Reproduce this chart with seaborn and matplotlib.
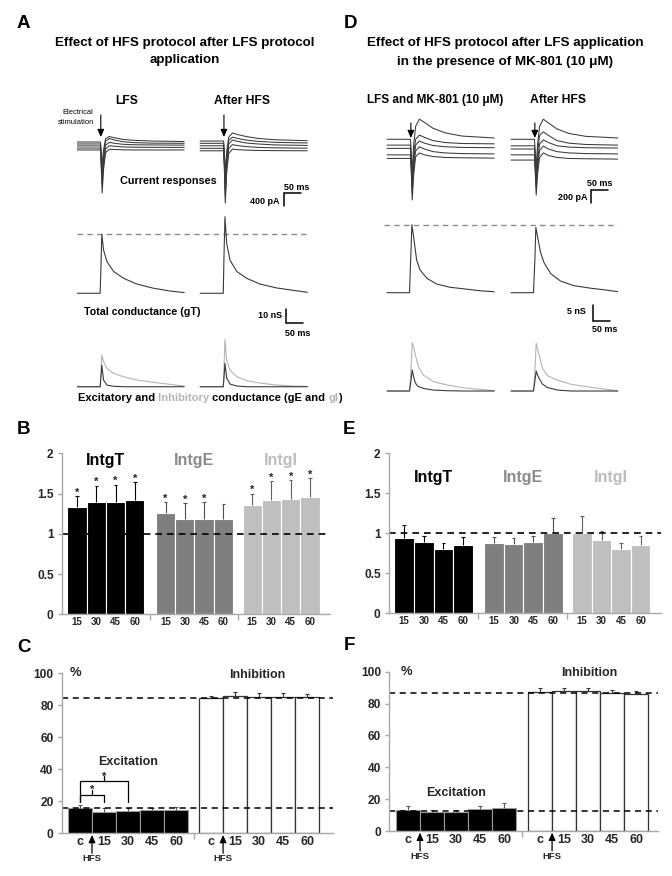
import numpy as np
import matplotlib
matplotlib.use("Agg")
import matplotlib.pyplot as plt
import seaborn as sns

W, H = 672, 876

# ---------------------------------------------------------------------------
# Traces, stimulation at t = 70 ms
# ---------------------------------------------------------------------------

# current responses, 5 sweeps per condition (pA)
T_CUR = [0, 69, 71, 74, 78, 84, 95, 110, 135, 170, 220, 315]
CUR_A_LFS = [
    [0, 0, -300, -700, -250, 100, 170, 130, 80, 50, 30, 15],
    [-60, -60, -400, -920, -400, 20, 110, 60, 10, -20, -35, -40],
    [-120, -120, -500, -1100, -550, -100, -10, -40, -70, -85, -90, -95],
    [-185, -185, -600, -1320, -700, -220, -115, -130, -150, -160, -165, -165],
    [-245, -245, -700, -1570, -850, -330, -225, -230, -240, -245, -245, -245],
]
CUR_A_HFS = [
    [30, 30, -300, -920, -300, 150, 280, 230, 170, 110, 70, 40],
    [-40, -40, -450, -1230, -500, 50, 150, 110, 60, 20, -10, -30],
    [-115, -115, -550, -1480, -650, -60, 60, 20, -30, -60, -90, -105],
    [-195, -195, -650, -1690, -800, -200, -80, -110, -140, -165, -180, -190],
    [-270, -270, -750, -1880, -950, -350, -220, -235, -250, -260, -265, -270],
]
CUR_D_LFS = [
    [0, 0, -200, -520, -100, 200, 310, 260, 170, 100, 50, 20],
    [-90, -90, -280, -630, -250, 0, 65, 30, -20, -50, -65, -70],
    [-140, -140, -330, -735, -350, -90, -25, -60, -95, -115, -125, -130],
    [-240, -240, -420, -830, -450, -180, -115, -150, -190, -210, -220, -225],
    [-295, -295, -480, -935, -560, -270, -210, -240, -265, -280, -285, -290],
]
CUR_D_HFS = [
    [0, 0, -180, -440, -80, 200, 310, 250, 160, 90, 45, 20],
    [-100, -100, -280, -550, -200, 60, 115, 60, -20, -60, -80, -90],
    [-150, -150, -340, -660, -330, -70, -10, -50, -100, -120, -130, -135],
    [-240, -240, -420, -750, -430, -170, -105, -150, -190, -210, -220, -225],
    [-320, -320, -500, -860, -540, -280, -210, -250, -280, -295, -300, -305],
]

# conductances (nS)
T_G_A = [0, 68, 70, 73, 78, 88, 108, 137, 176, 225, 274, 315]
GT_A_LFS = [0, 0, 15, 42.1, 31, 22.6, 15.5, 10.7, 6.6, 3.6, 1.6, 0.5]
GT_A_HFS = [0, 0, 25, 54.7, 35.7, 23.6, 15.5, 10.7, 6.6, 3.8, 2.1, 0.7]
GI_A_LFS = [0, 0, 8, 22.6, 17.9, 13.1, 9.5, 7.1, 4.8, 3.1, 1.7, 0.5]
GE_A_LFS = [0, 0, 6, 15.5, 4.8, 1.2, 0.3, 0, 0, 0, 0, 0]
GI_A_HFS = [0, 0, 12, 33.8, 19, 11.9, 7.1, 4.3, 2.6, 1.2, 0.5, 0.2]
GE_A_HFS = [0, 0, 6, 16.7, 6.2, 1.9, 0.5, 0, 0, 0, 0, 0]

T_G_D = [0, 66, 70, 73, 78, 87, 97, 117, 146, 185, 234, 274, 315]
GT_D_LFS = [0, 0, 12, 21.2, 17.5, 10.2, 7.1, 4.5, 2.7, 1.7, 1.1, 0.6, 0.3]
GT_D_HFS = [0, 0, 10, 20.4, 17.5, 12.5, 9.4, 5.9, 3.6, 2.2, 1.4, 0.9, 0.3]

T_EI_D = [0, 66, 70, 74, 78, 82, 87, 92, 107, 136, 176, 225, 274, 315]
GI_D_LFS = [0, 0, 6, 15.1, 13.75, 11.8, 9.7, 7.6, 5.0, 2.9, 1.9, 1.0, 0.5, 0.1]
GE_D_LFS = [0, 0, 3, 6.6, 4.5, 2.8, 1.9, 1.4, 0.8, 0.3, 0.1, 0, 0, 0]
GI_D_HFS = [0, 0, 6, 14.9, 13.1, 11.6, 9.4, 7.2, 4.8, 3.4, 2.1, 1.3, 0.6, 0.1]
GE_D_HFS = [0, 0, 3, 6.25, 5.0, 4.1, 3.1, 2.2, 1.1, 0.3, 0, 0, 0, 0]

# ---------------------------------------------------------------------------
# Bar data
# ---------------------------------------------------------------------------

MIN_LABELS = ["15", "30", "45", "60"]
GROUP_NAMES = ["IntgT", "IntgE", "IntgI"]

B_MEAN = [[1.33, 1.39, 1.40, 1.42], [1.26, 1.19, 1.19, 1.19], [1.36, 1.42, 1.43, 1.46]]
B_SEM = [[0.14, 0.21, 0.21, 0.22], [0.13, 0.19, 0.20, 0.18], [0.14, 0.23, 0.24, 0.23]]
B_STARS = [[1, 1, 1, 1], [1, 1, 1, 0], [1, 1, 1, 1]]

E_MEAN = [[0.94, 0.89, 0.81, 0.85], [0.875, 0.87, 0.89, 1.01], [1.01, 0.92, 0.81, 0.85]]
E_SEM = [[0.17, 0.08, 0.07, 0.10], [0.085, 0.07, 0.08, 0.18], [0.21, 0.11, 0.07, 0.12]]

PCT_LABELS = ["c", "15", "30", "45", "60"]
C_EXC = [15.6, 13.5, 14.2, 14.4, 14.6]
C_EXC_SEM = [2.1, 2.1, 1.8, 1.6, 1.6]
C_INH = [84.4, 86.0, 85.4, 85.4, 85.2]
C_INH_SEM = [1.4, 2.1, 2.1, 2.1, 1.9]
C_REF = [84.4, 15.6]
C_PAIRS = [(0, 1), (0, 2)]
C_PAIR_Y = [24, 32.7]

F_EXC = [13.2, 12.1, 12.1, 13.8, 14.6]
F_EXC_SEM = [2.5, 1.1, 1.1, 1.9, 2.8]
F_INH = [87.2, 87.9, 88.1, 86.8, 86.0]
F_INH_SEM = [2.3, 1.6, 1.9, 1.7, 1.7]
F_REF = [86.8, 12.8]

# ---------------------------------------------------------------------------
# Style
# ---------------------------------------------------------------------------

sns.set_style("white")
plt.rcParams["font.family"] = ["Liberation Sans", "DejaVu Sans"]
plt.rcParams["font.weight"] = "bold"

TRACE = "#3a3a3a"
LIGHT = "#b4b4b4"
DASH_GREY = "#8c8c8c"
AX_GREY = "#a8a8a8"
GROUP_COLORS = ["#000000", "#7f7f7f", "#bfbfbf"]
LABEL_COLORS = ["#000000", "#8a8a8a", "#bdbdbd"]
ERR_COLORS = ["#000000", "#505050", "#606060"]

fig = plt.figure(figsize=(W / 100, H / 100), dpi=100)


def px_axes(x0, y0, x1, y1):
    return fig.add_axes([x0 / W, 1 - y1 / H, (x1 - x0) / W, (y1 - y0) / H])


def ftext(x, y, s, size, ha="center", color="black", weight="bold"):
    return fig.text(x / W, 1 - y / H, s, ha=ha, va="center", fontsize=size,
                    color=color, fontweight=weight)


def trace_axes(box, xlim, ylim):
    ax = px_axes(*box)
    ax.set_xlim(xlim)
    ax.set_ylim(ylim)
    ax.axis("off")
    return ax


def sweeps(ax, t, rows, shift, color, lw=0.75):
    for r in rows:
        sns.lineplot(x=np.asarray(t) + shift, y=r, ax=ax, color=color, lw=lw,
                     estimator=None, sort=False)


def stim_arrow(ax, x, y_tail, y_tip):
    ax.annotate("", xy=(x, y_tip), xytext=(x, y_tail),
                arrowprops=dict(arrowstyle="-|>,head_length=0.45,head_width=0.2",
                                color="black", lw=0.8, shrinkA=0, shrinkB=0))


def scale_bar(ax, xs, ys):
    ax.plot(xs, ys, color="black", lw=1.1, clip_on=False, solid_joinstyle="miter")


# ---------------------------------------------------------------------------
# Panel A traces
# ---------------------------------------------------------------------------

A_SHIFT = 362
acur = trace_axes((77, 110, 310, 210), (0, 685), (-2094, 986))
sweeps(acur, T_CUR, CUR_A_LFS, 0, TRACE)
sweeps(acur, T_CUR, CUR_A_HFS, A_SHIFT, TRACE)
stim_arrow(acur, 70, 832, 154)
stim_arrow(acur, A_SHIFT + 70, 832, 154)
scale_bar(acur, [609, 609, 659], [-1980, -1580, -1580])

agt = trace_axes((77, 210, 310, 300), (0, 685), (-4.8, 59.5))
agt.axhline(max(GT_A_LFS), color=DASH_GREY, ls=(0, (4, 3)), lw=1)
sns.lineplot(x=T_G_A, y=GT_A_LFS, ax=agt, color=TRACE, lw=0.8, estimator=None, sort=False)
sns.lineplot(x=np.asarray(T_G_A) + A_SHIFT, y=GT_A_HFS, ax=agt, color=TRACE, lw=0.8,
             estimator=None, sort=False)
scale_bar(agt, [615, 615, 665], [-11.2, -21.2, -21.2])

aeg = trace_axes((77, 330, 310, 395), (0, 685), (-5.9, 40.5))
sweeps(aeg, T_G_A, [GI_A_LFS], 0, LIGHT, 0.8)
sweeps(aeg, T_G_A, [GE_A_LFS], 0, TRACE, 0.8)
sweeps(aeg, T_G_A, [GI_A_HFS], A_SHIFT, LIGHT, 0.8)
sweeps(aeg, T_G_A, [GE_A_HFS], A_SHIFT, TRACE, 0.8)

# ---------------------------------------------------------------------------
# Panel D traces
# ---------------------------------------------------------------------------

D_L, D_R = 9, 373.5
dcur = trace_axes((384, 110, 618, 210), (0, 688), (-1089, 451))
sweeps(dcur, T_CUR, CUR_D_LFS, D_L, TRACE)
sweeps(dcur, T_CUR, CUR_D_HFS, D_R, TRACE)
stim_arrow(dcur, D_L + 70, 251, 20)
stim_arrow(dcur, D_R + 70, 251, 20)
scale_bar(dcur, [609, 609, 659], [-981, -781, -781])

dgt = trace_axes((384, 212, 618, 300), (0, 688), (-2.28, 25.2))
dgt.axhline(max(GT_D_LFS), color=DASH_GREY, ls=(0, (4, 3)), lw=1)
sweeps(dgt, T_G_D, [GT_D_LFS], D_L, TRACE, 0.8)
sweeps(dgt, T_G_D, [GT_D_HFS], D_R, TRACE, 0.8)
scale_bar(dgt, [614, 614, 664], [-3.84, -8.84, -8.84])

deg = trace_axes((384, 330, 618, 396), (0, 688), (-1.56, 19.06))
sweeps(deg, T_EI_D, [GI_D_LFS], D_L, LIGHT, 0.8)
sweeps(deg, T_EI_D, [GE_D_LFS], D_L, TRACE, 0.8)
sweeps(deg, T_EI_D, [GI_D_HFS], D_R, LIGHT, 0.8)
sweeps(deg, T_EI_D, [GE_D_HFS], D_R, TRACE, 0.8)

# ---------------------------------------------------------------------------
# Texts of the trace panels
# ---------------------------------------------------------------------------

for x, y, s in [(17, 24, "A"), (344, 24, "D"), (17, 429, "B"), (343, 429, "E"),
                (17, 648, "C"), (344, 646, "F")]:
    ftext(x, y, s, 13.5, ha="left")

ftext(185, 43, "Effect of HFS protocol after LFS protocol", 9.6)
ftext(185, 60, "application", 9.6)
ftext(505, 43, "Effect of HFS protocol after LFS application", 9.6)
ftext(505, 61.5, "in the presence of MK-801 (10 \u03bcM)", 9.6)

ftext(127, 101, "LFS", 8.7)
ftext(242, 101, "After HFS", 8.7)
ftext(435, 100, "LFS and MK-801 (10 \u03bcM)", 8.5)
ftext(558, 100, "After HFS", 8.7)

ftext(93.5, 113, "Electrical", 5.4, ha="right", weight="normal")
ftext(94, 122, "stimulation", 5.4, ha="right", weight="normal")
ftext(168, 181, "Current responses", 7.8)
ftext(142, 312, "Total conductance (gT)", 7.7)

ftext(297, 187, "50 ms", 6.5)
ftext(280, 202, "400 pA", 6.5, ha="right")
ftext(282, 316, "10 nS", 6.5, ha="right")
ftext(298, 334, "50 ms", 6.5)
ftext(600, 183, "50 ms", 6.5)
ftext(588, 197, "200 pA", 6.5, ha="right")
ftext(586, 312, "5 nS", 6.5, ha="right")
ftext(605, 330, "50 ms", 6.5)

parts = [("Excitatory and", "black"), (" Inhibitory", LIGHT), (" conductance (gE and ", "black"),
         ("gI", LIGHT), (")", "black")]
t = ftext(78, 398, parts[0][0], 8, ha="left")
for s, c in parts[1:]:
    t = aeg.annotate(s, xycoords=t, xy=(1, 0), va="bottom", ha="left", color=c,
                     fontsize=8, fontweight="bold", annotation_clip=False)

# ---------------------------------------------------------------------------
# Bar panels
# ---------------------------------------------------------------------------


def style_bar_axes(ax, xlim, ylim, yticks, ylabels):
    ax.set_xlim(xlim)
    ax.set_ylim(ylim)
    ax.set_yticks(yticks)
    ax.set_yticklabels(ylabels, fontsize=8.6, fontweight="bold")
    sns.despine(ax=ax)
    for s in ("left", "bottom"):
        ax.spines[s].set_color(AX_GREY)
        ax.spines[s].set_linewidth(1)
    ax.tick_params(axis="y", length=3, width=1, color=AX_GREY, pad=3, left=True)
    ax.set_xlabel("")
    ax.set_ylabel("")


def bars(ax, x0, vals, sem, color, edge, ecol, lw=0.8):
    xs = x0 + np.arange(len(vals)) + 0.5
    sns.barplot(x=xs, y=vals, native_scale=True, orient="x", width=1, color=color,
                saturation=1, edgecolor=edge, linewidth=lw, errorbar=None, ax=ax)
    tops = np.asarray(vals) + np.asarray(sem)
    ax.vlines(xs, vals, tops, color=ecol, lw=0.8)
    ax.hlines(tops, xs - 0.09, xs + 0.09, color=ecol, lw=0.8)
    return xs, tops


GROUP_X = [0, 4.6, 9.1]


def ratio_panel(box, means, sems, label_y, stars=None):
    ax = px_axes(*box)
    ticks = []
    for g in range(3):
        xs, tops = bars(ax, GROUP_X[g], means[g], sems[g], GROUP_COLORS[g], "white", ERR_COLORS[g])
        ticks.extend(xs)
        if stars is not None:
            for x, top, s in zip(xs, tops, stars[g]):
                if s:
                    ax.text(x, top + 0.005, "*", ha="center", va="baseline", fontsize=8)
        ax.text(GROUP_X[g] + 2, label_y, GROUP_NAMES[g], ha="center", va="center",
                fontsize=11.5, color=LABEL_COLORS[g])
    ax.axhline(1, color="black", ls=(0, (4, 3)), lw=1.2)
    style_bar_axes(ax, (-0.28, 13.64), (0, 2), [0, 0.5, 1, 1.5, 2], ["0", "0.5", "1", "1.5", "2"])
    ax.set_xticks(ticks)
    ax.set_xticklabels(MIN_LABELS * 3, fontsize=7, fontweight="bold")
    ax.set_xticks([4.3, 8.85], minor=True)
    ax.tick_params(axis="x", which="major", length=0, pad=2)
    ax.tick_params(axis="x", which="minor", length=4, width=1, color=AX_GREY, bottom=True)
    return ax


ratio_panel((62, 453.3, 330, 614.3), B_MEAN, B_SEM, 1.91, B_STARS)
ratio_panel((389, 453.3, 661, 613.3), E_MEAN, E_SEM, 1.70)


def pct_panel(box, xlim, inh_x0, exc, exc_sem, inh, inh_sem, ref, exc_y, inh_label_x, pct_x):
    ax = px_axes(*box)
    xs_e, tops_e = bars(ax, 0, exc, exc_sem, "black", "#9a9a9a", "#555555")
    xs_i, tops_i = bars(ax, inh_x0, inh, inh_sem, "white", "#333333", "#333333", lw=0.9)
    for v in ref:
        ax.axhline(v, color="black", ls=(0, (4, 3)), lw=1.1)
    style_bar_axes(ax, xlim, (0, 100), [0, 20, 40, 60, 80, 100],
                   ["0", "20", "40", "60", "80", "100"])
    ax.set_xticks(list(xs_e) + list(xs_i))
    ax.set_xticklabels(PCT_LABELS * 2, fontsize=9, fontweight="bold")
    ax.set_xticks([(5 + inh_x0) / 2], minor=True)
    ax.tick_params(axis="x", which="major", length=0, pad=2)
    ax.tick_params(axis="x", which="minor", length=4, width=1, color=AX_GREY, bottom=True)
    ax.text(2.5, exc_y, "Excitation", ha="center", va="center", fontsize=9)
    ax.text(inh_label_x, 99, "Inhibition", ha="center", va="center", fontsize=9)
    ax.text(pct_x, 100, "%", ha="center", va="center", fontsize=9.4)
    tr = ax.get_xaxis_transform()
    for x in (1.0, inh_x0 + 1.0):
        ax.annotate("", xy=(x, -0.01), xycoords=tr, xytext=(x, -0.125), textcoords=tr,
                    arrowprops=dict(arrowstyle="-|>,head_length=0.45,head_width=0.2",
                                    color="black", lw=0.9, shrinkA=0, shrinkB=0))
        ax.text(x, -0.16, "HFS", transform=tr, ha="center", va="center", fontsize=6.8)
    return ax, xs_e


axc, xs_c = pct_panel((62, 673.3, 333, 833.3), (-0.25, 11.04), 5.46, C_EXC, C_EXC_SEM,
                      C_INH, C_INH_SEM, C_REF, 44.8, 7.9, 0.33)
leg = 19.6
for (i, j), h in zip(C_PAIRS, C_PAIR_Y):
    xa, xb = xs_c[i], xs_c[j]
    axc.plot([xa, xa, xb, xb], [leg, h, h, leg], color="black", lw=0.9)
    xm = (xa + xb) / 2
    axc.plot([xm, xm], [h, h + 3], color="black", lw=0.9)
    axc.text(xm, h + 1, "*", ha="center", va="baseline", fontsize=8)

pct_panel((389.3, 671.7, 657.7, 831), (-0.28, 10.9), 5.5, F_EXC, F_EXC_SEM,
          F_INH, F_INH_SEM, F_REF, 24, 8.05, 0.42)

fig.savefig("out.png", dpi=100)
